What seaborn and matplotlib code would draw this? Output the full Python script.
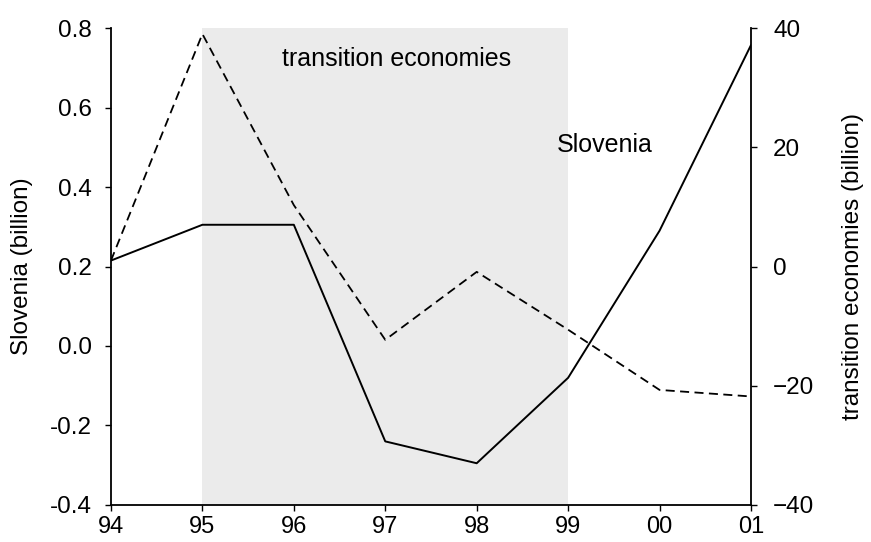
import matplotlib
matplotlib.use('Agg')
import matplotlib.pyplot as plt
import seaborn as sns
import pandas as pd

years = [1994, 1995, 1996, 1997, 1998, 1999, 2000, 2001]
year_labels = ['94', '95', '96', '97', '98', '99', '00', '01']
slovenia = [0.215, 0.305, 0.305, -0.24, -0.295, -0.08, 0.29, 0.757]
transition = [1.0, 39.0, 10.3, -12.3, -0.9, -10.6, -20.7, -21.8]
shade_start, shade_end = 1995, 1999

df = pd.DataFrame({'year': years, 'slovenia': slovenia, 'transition': transition})

sns.set_style('ticks')
plt.rcParams['font.family'] = ['Liberation Sans', 'DejaVu Sans']
plt.rcParams['text.color'] = 'black'
plt.rcParams['axes.labelcolor'] = 'black'
plt.rcParams['xtick.color'] = 'black'
plt.rcParams['ytick.color'] = 'black'

fig = plt.figure(figsize=(8.71, 5.42), dpi=100)
ax = fig.add_axes([0.1274, 0.0683, 0.7348, 0.88])
ax2 = ax.twinx()

ax.axvspan(shade_start, shade_end, facecolor='#ebebeb', edgecolor='none', zorder=0)

sns.lineplot(data=df, x='year', y='slovenia', ax=ax, color='black', lw=1.4)
sns.lineplot(data=df, x='year', y='transition', ax=ax2, color='black', lw=1.3,
             linestyle=(0, (5, 3)))

ax.set_xlim(1994, 2001)
ax.set_ylim(-0.4, 0.8)
ax2.set_ylim(-40, 40)
ax.set_xticks(years)
ax.set_xticklabels(year_labels)
ax.set_yticks([-0.4, -0.2, 0.0, 0.2, 0.4, 0.6, 0.8])
ax.set_yticklabels(['-0.4', '-0.2', '0.0', '0.2', '0.4', '0.6', '0.8'])
ax2.set_yticks([-40, -20, 0, 20, 40])

ax.set_xlabel('')
ax.set_ylabel('Slovenia (billion)', fontsize=17.5, labelpad=12)
ax2.set_ylabel('transition economies (billion)', fontsize=17.5, labelpad=20)

for a in (ax, ax2):
    a.tick_params(labelsize=17.5, length=4, width=1, color='black', direction='out')
    a.spines['top'].set_visible(False)
    for s in a.spines.values():
        s.set_linewidth(1.3)
        s.set_color('black')
ax.tick_params(axis='x', labelsize=17, pad=4)
ax.tick_params(axis='y', pad=10)
ax2.tick_params(axis='y', pad=12)
ax.spines['right'].set_visible(False)
ax2.spines['left'].set_visible(False)
ax2.spines['bottom'].set_visible(False)

ax.text(1997.12, 0.722, 'transition economies', fontsize=18, ha='center', va='center')
ax2.text(1999.4, 20.3, 'Slovenia', fontsize=18, ha='center', va='center')

fig.savefig('out.png', dpi=100)
